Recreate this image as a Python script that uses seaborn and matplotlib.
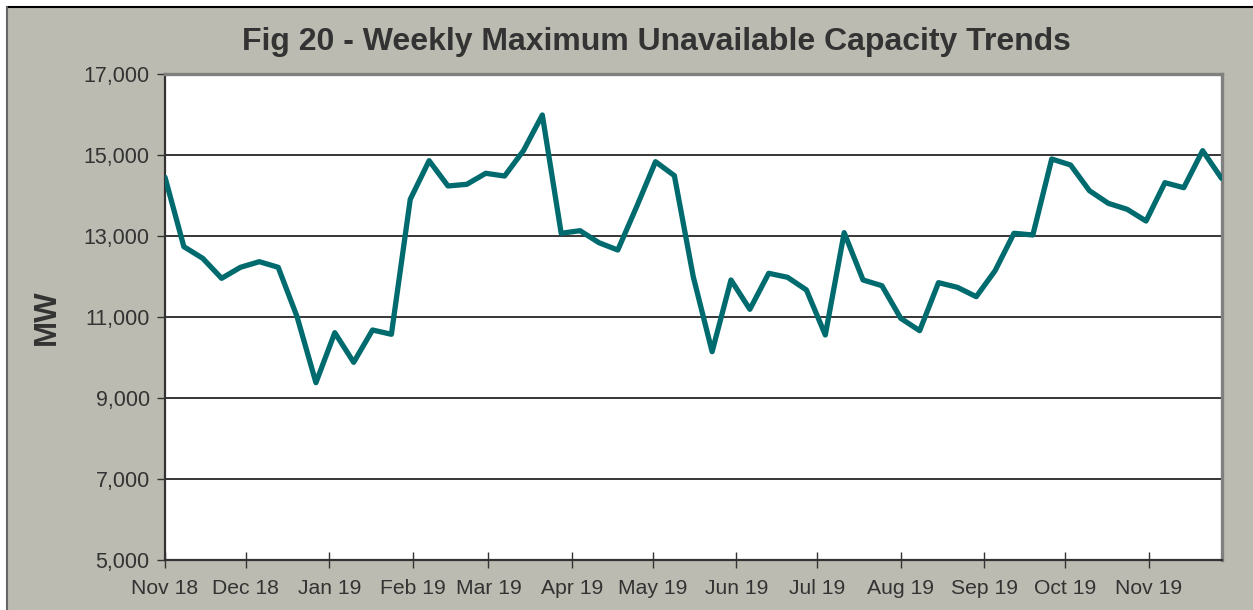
import numpy as np
import pandas as pd
import seaborn as sns
import matplotlib.pyplot as plt
import matplotlib.dates as mdates
from matplotlib.patches import Rectangle
from matplotlib.lines import Line2D
from matplotlib.ticker import FuncFormatter

# weekly maximum unavailable capacity (MW)
weeks = pd.date_range("2018-11-01", periods=57, freq="7D")
capacity_mw = [
    14450, 12736, 12449, 11955, 12227, 12366, 12227, 11007, 9378, 10613,
    9881, 10679, 10573, 13906, 14860, 14235, 14277, 14548, 14481, 15107,
    15988, 13067, 13131, 12835, 12654, 13724, 14835, 14490, 11996, 10144,
    11914, 11190, 12079, 11980, 11667, 10556, 13082, 11914, 11773, 10967,
    10662, 11848, 11733, 11502, 12144, 13067, 13025, 14901, 14753, 14119,
    13807, 13659, 13370, 14316, 14193, 15107, 14424,
]
y_ticks = [5000, 7000, 9000, 11000, 13000, 15000, 17000]

df = pd.DataFrame({"week": weeks, "MW": capacity_mw})

sns.set_style("white")
plt.rcParams["font.family"] = ["Liberation Sans", "DejaVu Sans"]

bg = "#bbbbb1"
txt = "#333333"

fig = plt.figure(figsize=(12.53, 6.10), dpi=100, facecolor="white")
# grey chart-area frame
fig.patches.append(Rectangle((7 / 1253, 0), 1, 1 - 7 / 610, transform=fig.transFigure,
                             facecolor=bg, edgecolor="none", zorder=-10))
fig.lines.append(Line2D([7 / 1253, 1], [1 - 7 / 610] * 2, transform=fig.transFigure,
                        color="black", lw=1.5))
fig.lines.append(Line2D([7 / 1253] * 2, [0, 1 - 7 / 610], transform=fig.transFigure,
                        color="#666666", lw=1.5))

ax = fig.add_axes([165 / 1253, 1 - 560 / 610, (1221.5 - 165) / 1253, (560 - 74) / 610])
ax.set_facecolor("white")

sns.lineplot(data=df, x="week", y="MW", ax=ax, color="#006b6e", lw=3.8, zorder=3)

ax.set_ylim(5000, 17000)
ax.set_yticks(y_ticks)
ax.yaxis.set_major_formatter(FuncFormatter(lambda v, p: f"{int(v):,}"))
ax.set_xlim(weeks[0], weeks[-1])
ax.xaxis.set_major_locator(mdates.MonthLocator())
ax.xaxis.set_major_formatter(mdates.DateFormatter("%b %y"))

for y in y_ticks[1:-1]:
    ax.axhline(y, color="black", lw=1.1, zorder=1)

ax.tick_params(axis="y", direction="out", length=6, width=1, color="#333333",
               labelsize=15.5, labelcolor=txt, pad=5, left=True)
ax.tick_params(axis="x", direction="inout", length=12, width=1, color="#333333",
               labelsize=15.2, labelcolor=txt, pad=8, bottom=True)

for side in ["left", "bottom"]:
    ax.spines[side].set_color("#333333")
    ax.spines[side].set_linewidth(1.6)
for side in ["top", "right"]:
    ax.spines[side].set_visible(True)
    ax.spines[side].set_color("#808080")
    ax.spines[side].set_linewidth(2.4)

ax.set_xlabel("")
ax.set_ylabel("MW", fontsize=22.5, fontweight="bold", color=txt, labelpad=16)
fig.text(656 / 1253, 1 - 42 / 610, "Fig 20 - Weekly Maximum Unavailable Capacity Trends",
         ha="center", va="center", fontsize=23, fontweight="bold", color=txt)

fig.savefig("out.png", dpi=100, facecolor=fig.get_facecolor())
